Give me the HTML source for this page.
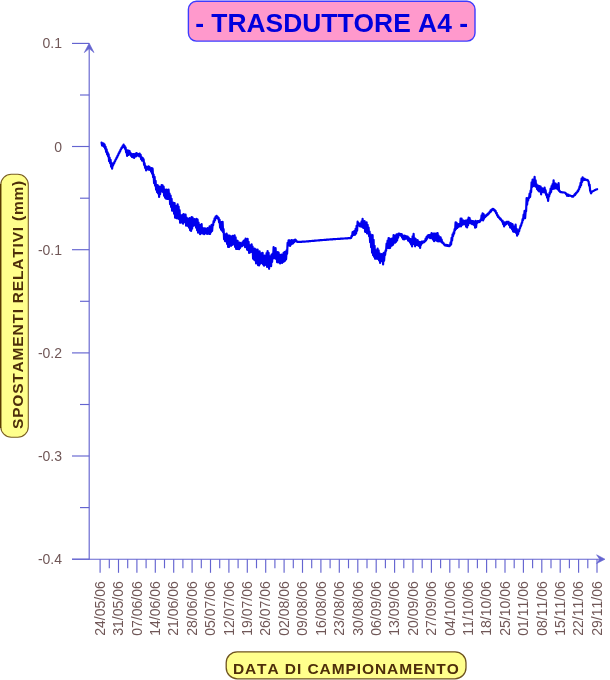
<!DOCTYPE html>
<html><head><meta charset="utf-8"><title>TRASDUTTORE A4</title>
<style>
html,body{margin:0;padding:0;background:#fff;}
body{width:610px;height:680px;overflow:hidden;}
svg{display:block;font-family:"Liberation Sans",Arial,sans-serif;font-kerning:none;}
</style></head><body>
<svg width="610" height="680" viewBox="0 0 610 680">
<rect width="610" height="680" fill="#ffffff"/>
<!-- title -->
<rect x="188.4" y="1.3" width="286.6" height="39.8" rx="8" ry="8" fill="#ff99cc" stroke="#3c3cff" stroke-width="1.4"/>
<text x="331.6" y="32.3" text-anchor="middle" font-size="26.4" font-weight="bold" fill="#0000dd">- TRASDUTTORE A4 -</text>
<!-- axes -->
<g stroke="#6464d0" stroke-width="1.15" fill="none">
<line x1="89.2" y1="45" x2="89.2" y2="559.8"/>
<line x1="72" y1="559.2" x2="601" y2="559.2"/>
<polygon points="89.2,43.2 94,52.6 89.2,48.6 84.3,52.6" fill="#6464d0" stroke-width="0.6"/>
<polygon points="605,559.2 596.6,554.8 599.6,559.2 596.6,563.6" fill="#6464d0" stroke-width="0.6"/>
<line x1="72" y1="43.4" x2="89.2" y2="43.4"/><line x1="72" y1="146.5" x2="89.2" y2="146.5"/><line x1="72" y1="249.7" x2="89.2" y2="249.7"/><line x1="72" y1="352.9" x2="89.2" y2="352.9"/><line x1="72" y1="456.0" x2="89.2" y2="456.0"/><line x1="72" y1="559.2" x2="89.2" y2="559.2"/><line x1="80" y1="95.0" x2="89.2" y2="95.0"/><line x1="80" y1="198.2" x2="89.2" y2="198.2"/><line x1="80" y1="301.3" x2="89.2" y2="301.3"/><line x1="80" y1="404.5" x2="89.2" y2="404.5"/><line x1="80" y1="507.6" x2="89.2" y2="507.6"/><line x1="100.1" y1="559.2" x2="100.1" y2="572.8"/><line x1="109.3" y1="559.2" x2="109.3" y2="568.3"/><line x1="118.5" y1="559.2" x2="118.5" y2="572.8"/><line x1="127.7" y1="559.2" x2="127.7" y2="568.3"/><line x1="136.9" y1="559.2" x2="136.9" y2="572.8"/><line x1="146.1" y1="559.2" x2="146.1" y2="568.3"/><line x1="155.3" y1="559.2" x2="155.3" y2="572.8"/><line x1="164.5" y1="559.2" x2="164.5" y2="568.3"/><line x1="173.7" y1="559.2" x2="173.7" y2="572.8"/><line x1="182.9" y1="559.2" x2="182.9" y2="568.3"/><line x1="192.1" y1="559.2" x2="192.1" y2="572.8"/><line x1="201.3" y1="559.2" x2="201.3" y2="568.3"/><line x1="210.5" y1="559.2" x2="210.5" y2="572.8"/><line x1="219.7" y1="559.2" x2="219.7" y2="568.3"/><line x1="228.9" y1="559.2" x2="228.9" y2="572.8"/><line x1="238.1" y1="559.2" x2="238.1" y2="568.3"/><line x1="247.3" y1="559.2" x2="247.3" y2="572.8"/><line x1="256.5" y1="559.2" x2="256.5" y2="568.3"/><line x1="265.7" y1="559.2" x2="265.7" y2="572.8"/><line x1="274.9" y1="559.2" x2="274.9" y2="568.3"/><line x1="284.1" y1="559.2" x2="284.1" y2="572.8"/><line x1="293.3" y1="559.2" x2="293.3" y2="568.3"/><line x1="302.5" y1="559.2" x2="302.5" y2="572.8"/><line x1="311.7" y1="559.2" x2="311.7" y2="568.3"/><line x1="320.9" y1="559.2" x2="320.9" y2="572.8"/><line x1="330.1" y1="559.2" x2="330.1" y2="568.3"/><line x1="339.3" y1="559.2" x2="339.3" y2="572.8"/><line x1="348.5" y1="559.2" x2="348.5" y2="568.3"/><line x1="357.8" y1="559.2" x2="357.8" y2="572.8"/><line x1="367.0" y1="559.2" x2="367.0" y2="568.3"/><line x1="376.2" y1="559.2" x2="376.2" y2="572.8"/><line x1="385.4" y1="559.2" x2="385.4" y2="568.3"/><line x1="394.6" y1="559.2" x2="394.6" y2="572.8"/><line x1="403.8" y1="559.2" x2="403.8" y2="568.3"/><line x1="413.0" y1="559.2" x2="413.0" y2="572.8"/><line x1="422.2" y1="559.2" x2="422.2" y2="568.3"/><line x1="431.4" y1="559.2" x2="431.4" y2="572.8"/><line x1="440.6" y1="559.2" x2="440.6" y2="568.3"/><line x1="449.8" y1="559.2" x2="449.8" y2="572.8"/><line x1="459.0" y1="559.2" x2="459.0" y2="568.3"/><line x1="468.2" y1="559.2" x2="468.2" y2="572.8"/><line x1="477.4" y1="559.2" x2="477.4" y2="568.3"/><line x1="486.6" y1="559.2" x2="486.6" y2="572.8"/><line x1="495.8" y1="559.2" x2="495.8" y2="568.3"/><line x1="505.0" y1="559.2" x2="505.0" y2="572.8"/><line x1="514.2" y1="559.2" x2="514.2" y2="568.3"/><line x1="523.4" y1="559.2" x2="523.4" y2="572.8"/><line x1="532.6" y1="559.2" x2="532.6" y2="568.3"/><line x1="541.8" y1="559.2" x2="541.8" y2="572.8"/><line x1="551.0" y1="559.2" x2="551.0" y2="568.3"/><line x1="560.2" y1="559.2" x2="560.2" y2="572.8"/><line x1="569.4" y1="559.2" x2="569.4" y2="568.3"/><line x1="578.6" y1="559.2" x2="578.6" y2="572.8"/><line x1="587.8" y1="559.2" x2="587.8" y2="568.3"/><line x1="597.0" y1="559.2" x2="597.0" y2="572.8"/>
</g>
<g font-size="14" fill="#705757"><text x="62" y="48.4" text-anchor="end">0.1</text><text x="62" y="151.5" text-anchor="end">0</text><text x="62" y="254.7" text-anchor="end">-0.1</text><text x="62" y="357.9" text-anchor="end">-0.2</text><text x="62" y="461.0" text-anchor="end">-0.3</text><text x="62" y="564.2" text-anchor="end">-0.4</text><text transform="translate(104.8,581.2) rotate(-90)" text-anchor="end">24/05/06</text><text transform="translate(123.2,581.2) rotate(-90)" text-anchor="end">31/05/06</text><text transform="translate(141.6,581.2) rotate(-90)" text-anchor="end">07/06/06</text><text transform="translate(160.0,581.2) rotate(-90)" text-anchor="end">14/06/06</text><text transform="translate(178.4,581.2) rotate(-90)" text-anchor="end">21/06/06</text><text transform="translate(196.8,581.2) rotate(-90)" text-anchor="end">28/06/06</text><text transform="translate(215.2,581.2) rotate(-90)" text-anchor="end">05/07/06</text><text transform="translate(233.6,581.2) rotate(-90)" text-anchor="end">12/07/06</text><text transform="translate(252.0,581.2) rotate(-90)" text-anchor="end">19/07/06</text><text transform="translate(270.4,581.2) rotate(-90)" text-anchor="end">26/07/06</text><text transform="translate(288.8,581.2) rotate(-90)" text-anchor="end">02/08/06</text><text transform="translate(307.2,581.2) rotate(-90)" text-anchor="end">09/08/06</text><text transform="translate(325.6,581.2) rotate(-90)" text-anchor="end">16/08/06</text><text transform="translate(344.0,581.2) rotate(-90)" text-anchor="end">23/08/06</text><text transform="translate(362.5,581.2) rotate(-90)" text-anchor="end">30/08/06</text><text transform="translate(380.9,581.2) rotate(-90)" text-anchor="end">06/09/06</text><text transform="translate(399.3,581.2) rotate(-90)" text-anchor="end">13/09/06</text><text transform="translate(417.7,581.2) rotate(-90)" text-anchor="end">20/09/06</text><text transform="translate(436.1,581.2) rotate(-90)" text-anchor="end">27/09/06</text><text transform="translate(454.5,581.2) rotate(-90)" text-anchor="end">04/10/06</text><text transform="translate(472.9,581.2) rotate(-90)" text-anchor="end">11/10/06</text><text transform="translate(491.3,581.2) rotate(-90)" text-anchor="end">18/10/06</text><text transform="translate(509.7,581.2) rotate(-90)" text-anchor="end">25/10/06</text><text transform="translate(528.1,581.2) rotate(-90)" text-anchor="end">01/11/06</text><text transform="translate(546.5,581.2) rotate(-90)" text-anchor="end">08/11/06</text><text transform="translate(564.9,581.2) rotate(-90)" text-anchor="end">15/11/06</text><text transform="translate(583.3,581.2) rotate(-90)" text-anchor="end">22/11/06</text><text transform="translate(601.7,581.2) rotate(-90)" text-anchor="end">29/11/06</text></g>
<!-- data -->
<polyline points="101.6,142.7 102.1,145.5 102.6,143.3 103.1,145.9 103.6,143.5 104.1,146.8 104.6,144.6 105.1,148.7 105.6,146.8 106.1,151.8 106.6,149.3 107.1,154.4 107.6,152.2 108.1,156.4 108.6,154.4 109.1,161.1 109.6,157.7 110.1,163.2 110.6,159.9 111.1,166.7 111.6,163.1 112.1,168.6 112.6,164.4 113.1,165.4 113.6,163.0 114.1,163.5 114.6,161.4 115.1,161.2 115.6,159.5 116.1,159.3 116.6,157.6 117.1,157.4 117.6,155.6 118.1,155.5 118.6,153.4 119.1,153.4 119.6,151.6 120.1,151.4 120.6,149.5 121.1,149.3 121.6,147.6 122.1,147.8 122.6,146.1 123.1,146.2 123.6,144.6 124.1,147.2 124.6,146.0 125.1,148.9 125.6,147.6 126.1,152.5 126.6,150.1 127.1,156.0 127.6,150.7 128.1,155.0 128.6,150.7 129.1,154.5 129.6,151.2 130.1,154.7 130.6,153.0 131.1,155.8 131.6,154.1 132.1,157.0 132.6,154.3 133.1,157.2 133.6,154.0 134.1,157.9 134.6,154.3 135.1,156.6 135.6,153.6 136.1,156.4 136.6,153.2 137.1,155.7 137.6,153.9 138.1,154.9 138.6,154.1 139.1,156.2 139.6,153.5 140.1,156.7 140.6,154.7 141.1,159.1 141.6,157.3 142.1,160.7 142.6,157.8 143.1,160.9 143.6,159.4 144.1,164.8 144.6,163.4 145.1,168.0 145.6,166.0 146.1,170.4 146.6,167.4 147.1,169.5 147.6,166.9 148.1,168.9 148.6,166.4 149.1,169.8 149.6,167.2 150.1,169.6 150.6,168.4 151.1,171.6 151.6,168.1 152.1,173.7 152.6,168.7 153.1,177.2 153.6,174.6 154.1,183.1 154.6,176.9 155.1,185.7 155.6,180.9 156.1,189.7 156.6,185.9 157.1,192.1 157.6,185.0 158.1,193.5 158.6,186.1 159.1,197.0 159.6,187.7 160.1,194.1 160.6,186.8 161.1,189.9 161.6,185.2 162.1,191.4 162.6,185.3 163.1,192.1 163.6,186.5 164.1,195.8 164.6,189.3 165.1,197.7 165.6,190.5 166.1,198.6 166.6,189.6 167.1,199.0 167.6,190.0 168.1,199.0 168.6,189.7 169.1,198.3 169.6,193.7 170.1,204.2 170.6,195.5 171.1,206.9 171.6,198.9 172.1,210.7 172.6,202.6 173.1,209.5 173.6,202.8 174.1,213.8 174.6,203.0 175.1,217.7 175.6,205.8 176.1,218.0 176.6,207.9 177.1,218.5 177.6,204.3 178.1,214.9 178.6,206.6 179.1,219.2 179.6,210.2 180.1,222.8 180.6,215.1 181.1,222.1 181.6,217.2 182.1,222.7 182.6,214.8 183.1,223.6 183.6,214.0 184.1,222.0 184.6,214.8 185.1,222.1 185.6,214.7 186.1,225.6 186.6,217.5 187.1,224.0 187.6,218.7 188.1,226.1 188.6,219.6 189.1,227.7 189.6,218.0 190.1,230.1 190.6,218.9 191.1,231.0 191.6,217.2 192.1,228.6 192.6,217.7 193.1,225.8 193.6,219.6 194.1,225.4 194.6,219.0 195.1,223.6 195.6,220.0 196.1,227.6 196.6,218.8 197.1,230.3 197.6,219.7 198.1,232.6 198.6,222.7 199.1,231.6 199.6,224.9 200.1,234.2 200.6,225.1 201.1,232.9 201.6,224.1 202.1,233.5 202.6,228.0 203.1,233.3 203.6,228.5 204.1,234.1 204.6,228.3 205.1,233.4 205.6,228.5 206.1,233.1 206.6,229.6 207.1,233.8 207.6,228.0 208.1,232.4 208.6,228.4 209.1,234.0 209.6,226.3 210.1,233.8 210.6,227.6 211.1,231.8 211.6,224.8 212.1,230.8 212.6,224.8 213.1,225.3 213.6,221.1 214.1,222.1 214.6,218.4 215.1,220.1 215.6,216.6 216.1,217.4 216.6,215.9 217.1,218.0 217.6,216.8 218.1,218.8 218.6,218.0 219.1,222.3 219.6,219.9 220.1,227.6 220.6,222.1 221.1,229.7 221.6,222.2 222.1,230.8 222.6,221.9 223.1,232.3 223.6,229.2 224.1,239.3 224.6,236.1 225.1,241.1 225.6,234.4 226.1,241.5 226.6,233.6 227.1,243.9 227.6,235.0 228.1,246.9 228.6,235.9 229.1,247.0 229.6,235.6 230.1,245.3 230.6,236.3 231.1,245.8 231.6,237.8 232.1,244.9 232.6,235.8 233.1,244.4 233.6,236.1 234.1,243.6 234.6,235.4 235.1,247.0 235.6,237.3 236.1,249.0 236.6,240.5 237.1,249.0 237.6,240.8 238.1,248.9 238.6,243.0 239.1,249.2 239.6,242.7 240.1,247.9 240.6,243.2 241.1,246.4 241.6,243.9 242.1,246.1 242.6,242.1 243.1,245.2 243.6,240.8 244.1,245.1 244.6,240.0 245.1,247.2 245.6,238.7 246.1,245.7 246.6,240.5 247.1,249.6 247.6,238.8 248.1,250.1 248.6,241.9 249.1,252.9 249.6,245.0 250.1,252.5 250.6,246.7 251.1,251.7 251.6,244.3 252.1,252.2 252.6,246.7 253.1,258.7 253.6,250.5 254.1,259.6 254.6,248.5 255.1,260.4 255.6,249.3 256.1,263.5 256.6,253.1 257.1,262.2 257.6,249.5 258.1,265.1 258.6,252.6 259.1,265.5 259.6,251.4 260.1,263.8 260.6,253.9 261.1,263.1 261.6,253.4 262.1,262.2 262.6,252.9 263.1,264.5 263.6,256.4 264.1,265.7 264.6,255.5 265.1,264.8 265.6,257.6 266.1,264.1 266.6,253.0 267.1,266.9 267.6,251.1 268.1,263.7 268.6,252.8 269.1,268.8 269.6,256.0 270.1,265.3 270.6,257.6 271.1,266.2 271.6,254.6 272.1,261.9 272.6,253.5 273.1,258.5 273.6,247.2 274.1,257.1 274.6,248.6 275.1,258.4 275.6,248.2 276.1,259.0 276.6,252.7 277.1,262.2 277.6,252.0 278.1,262.4 278.6,252.5 279.1,262.0 279.6,254.6 280.1,263.5 280.6,255.4 281.1,261.2 281.6,254.7 282.1,262.9 282.6,254.8 283.1,261.9 283.6,252.9 284.1,261.5 284.6,252.1 285.1,260.7 285.6,251.5 286.1,259.3 286.6,250.4 287.1,253.8 287.6,242.8 288.1,245.0 288.6,240.3 289.1,245.5 289.6,240.4 290.1,245.8 290.6,241.4 291.1,244.5 291.6,240.1 292.1,243.7 292.6,240.7 293.1,243.4 293.6,240.4 294.1,242.3 294.6,239.9 295.1,241.3 295.6,239.7 296.1,241.2 296.6,241.0 297.1,241.8 297.6,242.0 298.1,241.9 298.6,241.9 299.1,241.9 299.6,241.9 300.1,241.8 300.6,241.8 301.1,241.8 301.6,241.8 302.1,241.7 302.6,241.7 303.1,241.7 303.6,241.7 304.1,241.6 304.6,241.6 305.1,241.6 305.6,241.5 306.1,241.5 306.6,241.4 307.1,241.4 307.6,241.4 308.1,241.3 308.6,241.3 309.1,241.2 309.6,241.2 310.1,241.1 310.6,241.1 311.1,241.0 311.6,241.0 312.1,240.9 312.6,240.9 313.1,240.9 313.6,240.8 314.1,240.8 314.6,240.7 315.1,240.7 315.6,240.6 316.1,240.6 316.6,240.5 317.1,240.5 317.6,240.5 318.1,240.4 318.6,240.4 319.1,240.3 319.6,240.3 320.1,240.2 320.6,240.2 321.1,240.2 321.6,240.1 322.1,240.1 322.6,240.0 323.1,240.0 323.6,240.0 324.1,239.9 324.6,239.9 325.1,239.8 325.6,239.8 326.1,239.8 326.6,239.7 327.1,239.7 327.6,239.6 328.1,239.6 328.6,239.6 329.1,239.5 329.6,239.5 330.1,239.4 330.6,239.4 331.1,239.4 331.6,239.3 332.1,239.3 332.6,239.3 333.1,239.2 333.6,239.2 334.1,239.2 334.6,239.1 335.1,239.1 335.6,239.1 336.1,239.0 336.6,239.0 337.1,239.0 337.6,238.9 338.1,238.9 338.6,238.9 339.1,238.8 339.6,238.8 340.1,238.8 340.6,238.7 341.1,238.7 341.6,238.7 342.1,238.6 342.6,238.6 343.1,238.6 343.6,238.5 344.1,238.5 344.6,238.5 345.1,238.4 345.6,238.4 346.1,238.4 346.6,238.3 347.1,238.3 347.6,238.3 348.1,238.2 348.6,238.2 349.1,238.2 349.6,238.1 350.1,238.1 350.6,238.1 351.1,238.0 351.6,235.8 352.1,236.2 352.6,232.1 353.1,234.9 353.6,231.5 354.1,234.8 354.6,230.8 355.1,234.7 355.6,228.9 356.1,233.4 356.6,225.8 357.1,230.6 357.6,221.7 358.1,225.9 358.6,223.2 359.1,225.5 359.6,224.7 360.1,226.5 360.6,223.3 361.1,226.5 361.6,221.3 362.1,226.8 362.6,218.9 363.1,227.8 363.6,221.6 364.1,227.6 364.6,221.2 365.1,231.8 365.6,223.7 366.1,231.9 366.6,222.3 367.1,233.4 367.6,224.8 368.1,232.5 368.6,227.5 369.1,236.3 369.6,231.5 370.1,242.2 370.6,234.4 371.1,247.1 371.6,236.1 372.1,252.6 372.6,235.2 373.1,255.2 373.6,239.8 374.1,256.8 374.6,245.9 375.1,258.8 375.6,250.7 376.1,258.0 376.6,250.0 377.1,258.9 377.6,248.5 378.1,257.9 378.6,250.3 379.1,260.4 379.6,253.4 380.1,262.9 380.6,254.4 381.1,260.0 381.6,254.1 382.1,261.1 382.6,254.5 383.1,264.5 383.6,253.0 384.1,260.8 384.6,252.4 385.1,255.0 385.6,250.3 386.1,250.6 386.6,243.5 387.1,246.5 387.6,240.5 388.1,247.8 388.6,238.0 389.1,248.1 389.6,238.6 390.1,247.9 390.6,239.9 391.1,245.9 391.6,238.9 392.1,245.3 392.6,238.4 393.1,244.7 393.6,235.1 394.1,242.7 394.6,236.3 395.1,242.7 395.6,235.4 396.1,241.8 396.6,234.3 397.1,240.3 397.6,234.3 398.1,237.6 398.6,233.7 399.1,234.5 399.6,233.6 400.1,235.1 400.6,234.2 401.1,235.9 401.6,234.0 402.1,237.5 402.6,235.3 403.1,239.1 403.6,236.0 404.1,239.4 404.6,235.5 405.1,239.0 405.6,236.1 406.1,237.5 406.6,236.5 407.1,238.8 407.6,236.6 408.1,240.5 408.6,237.5 409.1,241.2 409.6,238.9 410.1,242.5 410.6,239.2 411.1,244.3 411.6,239.1 412.1,246.4 412.6,236.3 413.1,243.9 413.6,233.8 414.1,243.1 414.6,238.4 415.1,246.3 415.6,238.8 416.1,244.1 416.6,241.0 417.1,245.0 417.6,240.1 418.1,245.5 418.6,241.7 419.1,246.2 419.6,242.0 420.1,247.9 420.6,242.4 421.1,244.9 421.6,241.6 422.1,243.2 422.6,241.6 423.1,242.5 423.6,241.4 424.1,242.2 424.6,241.1 425.1,241.2 425.6,238.6 426.1,240.4 426.6,236.8 427.1,238.7 427.6,235.7 428.1,237.4 428.6,235.0 429.1,236.8 429.6,235.0 430.1,238.1 430.6,234.5 431.1,237.5 431.6,233.1 432.1,238.5 432.6,234.7 433.1,239.7 433.6,233.6 434.1,241.1 434.6,233.6 435.1,238.8 435.6,233.9 436.1,240.3 436.6,233.6 437.1,240.8 437.6,233.1 438.1,241.5 438.6,235.6 439.1,241.2 439.6,237.1 440.1,241.4 440.6,237.3 441.1,241.6 441.6,239.5 442.1,242.6 442.6,242.0 443.1,243.4 443.6,243.2 444.1,244.6 444.6,244.5 445.1,245.4 445.6,244.9 446.1,245.6 446.6,244.9 447.1,245.8 447.6,245.1 448.1,245.9 448.6,245.3 449.1,246.2 449.6,245.3 450.1,245.5 450.6,242.4 451.1,244.4 451.6,237.9 452.1,240.5 452.6,234.4 453.1,236.1 453.6,232.3 454.1,233.7 454.6,229.1 455.1,230.2 455.6,222.4 456.1,228.9 456.6,222.8 457.1,228.0 457.6,224.6 458.1,227.1 458.6,224.0 459.1,226.4 459.6,224.8 460.1,226.3 460.6,218.7 461.1,226.3 461.6,218.5 462.1,224.9 462.6,220.4 463.1,224.3 463.6,220.6 464.1,224.1 464.6,221.1 465.1,224.3 465.6,220.6 466.1,226.7 466.6,221.4 467.1,227.4 467.6,219.6 468.1,225.2 468.6,217.7 469.1,221.6 469.6,218.2 470.1,223.1 470.6,220.3 471.1,223.3 471.6,221.0 472.1,224.2 472.6,221.0 473.1,224.1 473.6,221.3 474.1,225.0 474.6,222.7 475.1,227.7 475.6,220.8 476.1,227.2 476.6,221.8 477.1,222.9 477.6,221.1 478.1,222.1 478.6,221.1 479.1,222.0 479.6,221.7 480.1,221.6 480.6,219.5 481.1,220.1 481.6,215.3 482.1,218.6 482.6,213.4 483.1,220.4 483.6,214.0 484.1,218.6 484.6,215.5 485.1,217.0 485.6,215.7 486.1,216.2 486.6,214.9 487.1,215.3 487.6,214.0 488.1,214.5 488.6,213.1 489.1,213.4 489.6,211.9 490.1,212.2 490.6,210.4 491.1,211.4 491.6,209.6 492.1,210.0 492.6,208.9 493.1,209.5 493.6,209.0 494.1,210.4 494.6,209.9 495.1,211.5 495.6,210.9 496.1,213.2 496.6,212.8 497.1,215.4 497.6,215.0 498.1,216.9 498.6,216.5 499.1,218.0 499.6,217.6 500.1,219.3 500.6,218.7 501.1,220.0 501.6,220.0 502.1,221.6 502.6,220.8 503.1,224.2 503.6,222.7 504.1,226.3 504.6,222.4 505.1,224.9 505.6,222.9 506.1,224.2 506.6,221.9 507.1,223.5 507.6,221.8 508.1,223.2 508.6,221.9 509.1,225.0 509.6,223.2 510.1,227.3 510.6,223.0 511.1,227.8 511.6,223.9 512.1,229.4 512.6,224.4 513.1,231.5 513.6,226.3 514.1,231.8 514.6,226.8 515.1,231.3 515.6,224.6 516.1,232.9 516.6,228.8 517.1,235.6 517.6,231.9 518.1,234.1 518.6,230.1 519.1,231.2 519.6,228.6 520.1,228.0 520.6,225.6 521.1,225.7 521.6,223.1 522.1,222.8 522.6,219.2 523.1,220.0 523.6,214.6 524.1,216.9 524.6,210.9 525.1,218.2 525.6,211.7 526.1,211.3 526.6,198.2 527.1,204.7 527.6,198.4 528.1,200.7 528.6,197.5 529.1,198.0 529.6,193.7 530.1,197.0 530.6,190.6 531.1,192.1 531.6,182.3 532.1,186.9 532.6,179.7 533.1,186.1 533.6,179.9 534.1,183.8 534.6,176.8 535.1,186.3 535.6,180.4 536.1,186.8 536.6,184.4 537.1,189.1 537.6,185.5 538.1,190.4 538.6,185.8 539.1,191.3 539.6,186.3 540.1,190.7 540.6,186.5 541.1,194.3 541.6,188.2 542.1,192.1 542.6,188.5 543.1,191.6 543.6,189.1 544.1,192.3 544.6,187.5 545.1,191.9 545.6,190.4 546.1,194.9 546.6,193.7 547.1,197.5 547.6,195.0 548.1,200.8 548.6,195.3 549.1,196.5 549.6,192.7 550.1,193.7 550.6,188.7 551.1,192.0 551.6,186.2 552.1,188.4 552.6,184.1 553.1,188.8 553.6,180.3 554.1,188.7 554.6,183.3 555.1,188.1 555.6,183.7 556.1,188.5 556.6,184.6 557.1,188.7 557.6,184.6 558.1,189.6 558.6,183.2 559.1,191.0 559.6,190.6 560.1,192.0 560.6,192.1 561.1,192.2 561.6,192.2 562.1,192.3 562.6,192.3 563.1,192.4 563.6,192.5 564.1,192.5 564.6,192.6 565.1,192.8 565.6,193.3 566.1,194.2 566.6,193.8 567.1,195.8 567.6,194.7 568.1,195.8 568.6,194.7 569.1,195.8 569.6,195.5 570.1,195.6 570.6,195.7 571.1,195.9 571.6,196.1 572.1,196.6 572.6,196.1 573.1,196.7 573.6,195.7 574.1,195.7 574.6,194.5 575.1,195.0 575.6,193.5 576.1,193.7 576.6,192.4 577.1,192.5 577.6,191.0 578.1,191.3 578.6,189.3 579.1,189.3 579.6,186.4 580.1,187.1 580.6,182.8 581.1,185.1 581.6,178.7 582.1,181.8 582.6,177.3 583.1,180.3 583.6,178.6 584.1,179.9 584.6,178.8 585.1,179.9 585.6,179.6 586.1,179.7 586.6,179.9 587.1,180.2 587.6,180.0 588.1,180.9 588.6,181.6 589.1,185.5 589.6,184.6 590.1,190.4 590.6,191.9 591.1,193.3 591.6,191.7 592.1,191.7 592.6,191.4 593.1,191.1 593.6,190.9 594.1,190.6 594.6,190.3 595.1,190.1 595.6,189.8 596.1,189.6 596.6,189.4 597.1,189.2" fill="none" stroke="#0000ee" stroke-width="2.2" stroke-linejoin="round" stroke-linecap="round"/>
<!-- y label -->
<rect x="0.8" y="174.3" width="27.5" height="263" rx="10.5" ry="10.5" fill="#ffff8c" stroke="#7a5f24" stroke-width="1.1"/><line x1="0.6" y1="184" x2="0.6" y2="428" stroke="#5a3c00" stroke-width="1.3"/>
<text transform="translate(23,429) rotate(-90)" font-size="15.5" font-weight="bold" letter-spacing="0.8" fill="#4d2e0a">SPOSTAMENTI RELATIVI (mm)</text>
<!-- x label -->
<rect x="226.2" y="651.8" width="239.8" height="27" rx="11" ry="11" fill="#ffff8c" stroke="#6e5320" stroke-width="1.3"/>
<text x="232.9" y="674.4" font-size="15.5" font-weight="bold" letter-spacing="0.92" fill="#4d2e0a">DATA DI CAMPIONAMENTO</text>
</svg>
</body></html>
